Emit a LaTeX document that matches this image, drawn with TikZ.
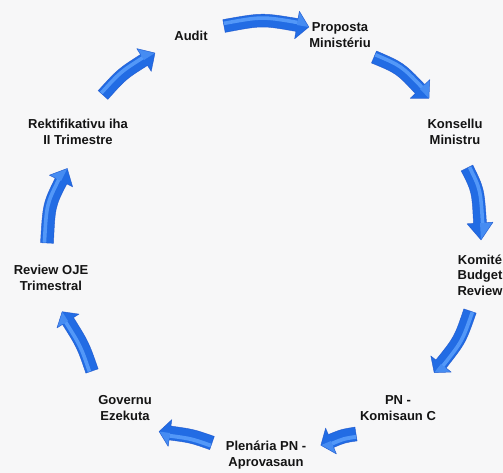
\documentclass[tikz,border=0pt]{standalone}
\usepackage{fontspec}
\setmainfont{Liberation Sans}
\usetikzlibrary{calc}
\definecolor{arrblue}{RGB}{34,108,228}
\definecolor{arrdark}{RGB}{22,78,200}
\definecolor{arrlight}{RGB}{100,168,255}
\definecolor{bgcol}{RGB}{247,247,248}
\tikzset{
  lbl/.style={align=center, inner sep=0pt, text=black!92,
    font=\bfseries\fontsize{13}{15.5}\selectfont},
}
% #1 name, #2 start, #3 control, #4 head base, #5 shaft half width, #6 head half width, #7 head length
\newcommand\cycarrow[7]{%
  \coordinate (#1s) at #2;
  \coordinate (#1c) at #3;
  \coordinate (#1b) at #4;
  \coordinate (#1sl) at ($(#1s)!#5!90:(#1c)$);
  \coordinate (#1sr) at ($(#1s)!#5!-90:(#1c)$);
  \coordinate (#1bl) at ($(#1b)!#5!-90:(#1c)$);
  \coordinate (#1br) at ($(#1b)!#5!90:(#1c)$);
  \coordinate (#1cl) at ($(#1c)+0.5*(#1sl)-0.5*(#1s)+0.5*(#1bl)-0.5*(#1b)$);
  \coordinate (#1cr) at ($(#1c)+0.5*(#1sr)-0.5*(#1s)+0.5*(#1br)-0.5*(#1b)$);
  \coordinate (#1hl) at ($(#1b)!#6!-90:(#1c)$);
  \coordinate (#1hr) at ($(#1b)!#6!90:(#1c)$);
  \coordinate (#1t) at ($(#1b)!-#7!(#1c)$);
  \fill[arrblue] (#1sl) .. controls (#1cl) .. (#1bl) -- (#1hl) -- (#1t)
     -- (#1hr) -- (#1br) .. controls (#1cr) .. (#1sr) -- cycle;
  \draw[arrlight, line width=0.55*#5, opacity=0.75, line cap=butt]
     ($(#1s)!0.4!(#1sl)$) .. controls ($(#1c)!0.4!(#1cl)$) .. ($(#1b)!0.4!(#1bl)$);
  \fill[arrlight, opacity=0.55] (#1b) -- (#1hl) -- (#1t) -- cycle;
  \draw[arrdark, line width=0.5pt, opacity=0.7, line join=round]
     (#1sl) .. controls (#1cl) .. (#1bl) -- (#1hl) -- (#1t)
     -- (#1hr) -- (#1br) .. controls (#1cr) .. (#1sr) -- cycle;
}
\begin{document}
\begin{tikzpicture}[x=1pt,y=-1pt]
\useasboundingbox (0,0) rectangle (503,473);
\fill[bgcol] (0,0) rectangle (503,473);

\node[lbl] (audit)  at (191,36)  {Audit};
\node[lbl] (prop)   at (340,35)  {Proposta\\Ministériu};
\node[lbl] (kons)   at (455,132) {Konsellu\\Ministru};
\node[lbl] (komite) at (480,275) {Komité\\Budget\\Review};
\node[lbl] (pn)     at (398,408) {PN -\\Komisaun C};
\node[lbl] (plen)   at (266,455) {Plenária PN -\\Aprovasaun};
\node[lbl] (gov)    at (125,408) {Governu\\Ezekuta};
\node[lbl] (review) at (51,278)  {Review OJE\\Trimestral};
\node[lbl] (rekt)   at (78,132)  {Rektifikativu iha\\II Trimestre};

\cycarrow{a1}{(224,26)}{(262,19)}{(297,25)}{6.5pt}{14pt}{12pt}
\cycarrow{a2}{(374,57)}{(400,68)}{(420,89)}{6.5pt}{13.5pt}{13pt}
\cycarrow{a3}{(467,168)}{(478,190)}{(480,223)}{6.5pt}{13pt}{17pt}
\cycarrow{a4}{(470,311)}{(460,340)}{(441,364)}{6.5pt}{13pt}{11pt}
\cycarrow{a5}{(356,434)}{(343,436)}{(331,441)}{7pt}{14pt}{11pt}
\cycarrow{a6}{(212,443)}{(192,436)}{(170,433)}{7pt}{13.5pt}{11pt}
\cycarrow{a7}{(92,371)}{(83,345)}{(68,321)}{6.5pt}{13pt}{11pt}
\cycarrow{a8}{(47,243)}{(49,205)}{(61,181)}{6.5pt}{13pt}{14pt}
\cycarrow{a9}{(103,95)}{(122,74)}{(144,60)}{6.5pt}{13.5pt}{13pt}
\end{tikzpicture}
\end{document}
